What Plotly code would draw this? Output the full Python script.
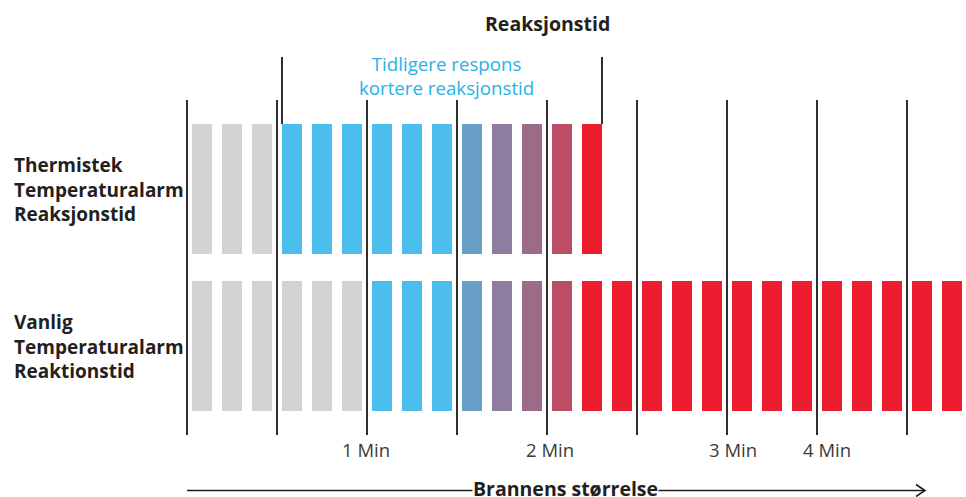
import plotly.graph_objects as go

# ---------------- data ----------------
stage_colors = ['#D1D3D4', '#4ABDEC', '#699FC7', '#8D7D9F', '#9C6B89', '#BC4D65', '#ED1C2E']
# stage index of every time segment, per row
thermistor_stages = [0, 0, 0, 1, 1, 1, 1, 1, 1, 2, 3, 4, 5, 6]
standard_stages = [0, 0, 0, 0, 0, 0, 1, 1, 1, 2, 3, 4, 5, 6, 6, 6, 6, 6, 6, 6, 6, 6, 6, 6, 6, 6]
row_labels = ["Thermistek<br>Temperaturalarm<br>Reaksjonstid",
              "Vanlig<br>Temperaturalarm<br>Reaktionstid"]
minute_labels = ["1 Min", "2 Min", "3 Min", "4 Min"]
minute_gridline = [2, 4, 6, 7]
n_gridlines = 9
segments_per_gridline = 3
title_text = "Reaksjonstid"
note_text = "Tidligere respons<br>kortere reaksjonstid"
axis_text = "Brannens størrelse"

# ---------------- layout helpers ----------------
W, H = 966, 497
X0_PX, SEG_PX = 187, 30          # pixel position of first grid line, pixels per segment
BAR_W = 2 / 3
ROW_H = 130
rows = [(thermistor_stages, 124), (standard_stages, 281)]

BOLD = dict(family="Open Sans, Lato, sans-serif", color="#231F20")

fig = go.Figure()

# grid lines
gx, gy = [], []
for k in range(n_gridlines):
    gx += [k * segments_per_gridline, k * segments_per_gridline, None]
    gy += [100, 435, None]
fig.add_trace(go.Scatter(x=gx, y=gy, mode="lines", line=dict(color="#2E2E2E", width=2),
                         hoverinfo="skip"))

# bars
for stages, base in rows:
    fig.add_trace(go.Bar(
        x=[i + 0.5 for i in range(len(stages))],
        y=[ROW_H] * len(stages),
        base=[base] * len(stages),
        width=BAR_W,
        marker=dict(color=[stage_colors[s] for s in stages], line=dict(width=0)),
        hoverinfo="skip",
    ))

# reaction-time bracket: from first non-grey segment to end of thermistor row
first_active = next(i for i, s in enumerate(thermistor_stages) if s != 0)
left_edge = first_active + (1 - BAR_W) / 2
right_edge = len(thermistor_stages) - (1 - BAR_W) / 2
fig.add_trace(go.Scatter(x=[left_edge, left_edge, None, right_edge, right_edge],
                         y=[57, 124, None, 57, 124], mode="lines",
                         line=dict(color="#2E2E2E", width=2), hoverinfo="skip"))

# size arrow
arrow_end = (925 - X0_PX) / SEG_PX
fig.add_shape(type="line", x0=0, x1=arrow_end, y0=490.5, y1=490.5,
              line=dict(color="#231F20", width=1.6))
fig.add_trace(go.Scatter(x=[arrow_end - 0.3, arrow_end, arrow_end - 0.3],
                         y=[484.5, 490.5, 496.5], mode="lines",
                         line=dict(color="#231F20", width=1.6), hoverinfo="skip"))

ann = []
# row labels
for (stages, base), lab in zip(rows, row_labels):
    ann.append(dict(x=(12 - X0_PX) / SEG_PX, y=base + ROW_H / 2, text="<b>" + lab + "</b>",
                    xanchor="left", yanchor="middle", align="left", showarrow=False,
                    font=dict(size=19, **BOLD)))
# minute labels
shifts = [-1, 3, 6, 10]
for lab, g, sh in zip(minute_labels, minute_gridline, shifts):
    ann.append(dict(x=g * segments_per_gridline, y=449, text=lab, xshift=sh,
                    showarrow=False, xanchor="center", yanchor="middle",
                    font=dict(size=18.5, family="Open Sans, sans-serif", color="#3A3A3A")))
# title
ann.append(dict(x=4 * segments_per_gridline, y=23, text="<b>" + title_text + "</b>",
                showarrow=False, xanchor="center", yanchor="middle",
                font=dict(size=19.5, **BOLD)))
# blue note
ann.append(dict(x=(446 - X0_PX) / SEG_PX, y=75, text=note_text, showarrow=False,
                xanchor="center", yanchor="middle", align="center",
                font=dict(size=18.7, family="Open Sans, sans-serif", color="#29B2E7")))
# axis label
ann.append(dict(x=(565 - X0_PX) / SEG_PX, y=488, text="<b>" + axis_text + "</b>",
                showarrow=False, xanchor="center", yanchor="middle", bgcolor="white",
                borderpad=0, font=dict(size=19.5, **BOLD)))

fig.update_layout(
    width=W, height=H,
    margin=dict(l=0, r=0, t=0, b=0, pad=0),
    paper_bgcolor="white", plot_bgcolor="white",
    showlegend=False, barmode="overlay",
    xaxis=dict(range=[-X0_PX / SEG_PX, (W - X0_PX) / SEG_PX], visible=False, fixedrange=True),
    yaxis=dict(range=[H, 0], visible=False, fixedrange=True),
    annotations=ann,
)

fig.write_html("out.html", config={"displayModeBar": False},
               post_script="document.body.style.margin='0';document.body.style.overflow='hidden';")
